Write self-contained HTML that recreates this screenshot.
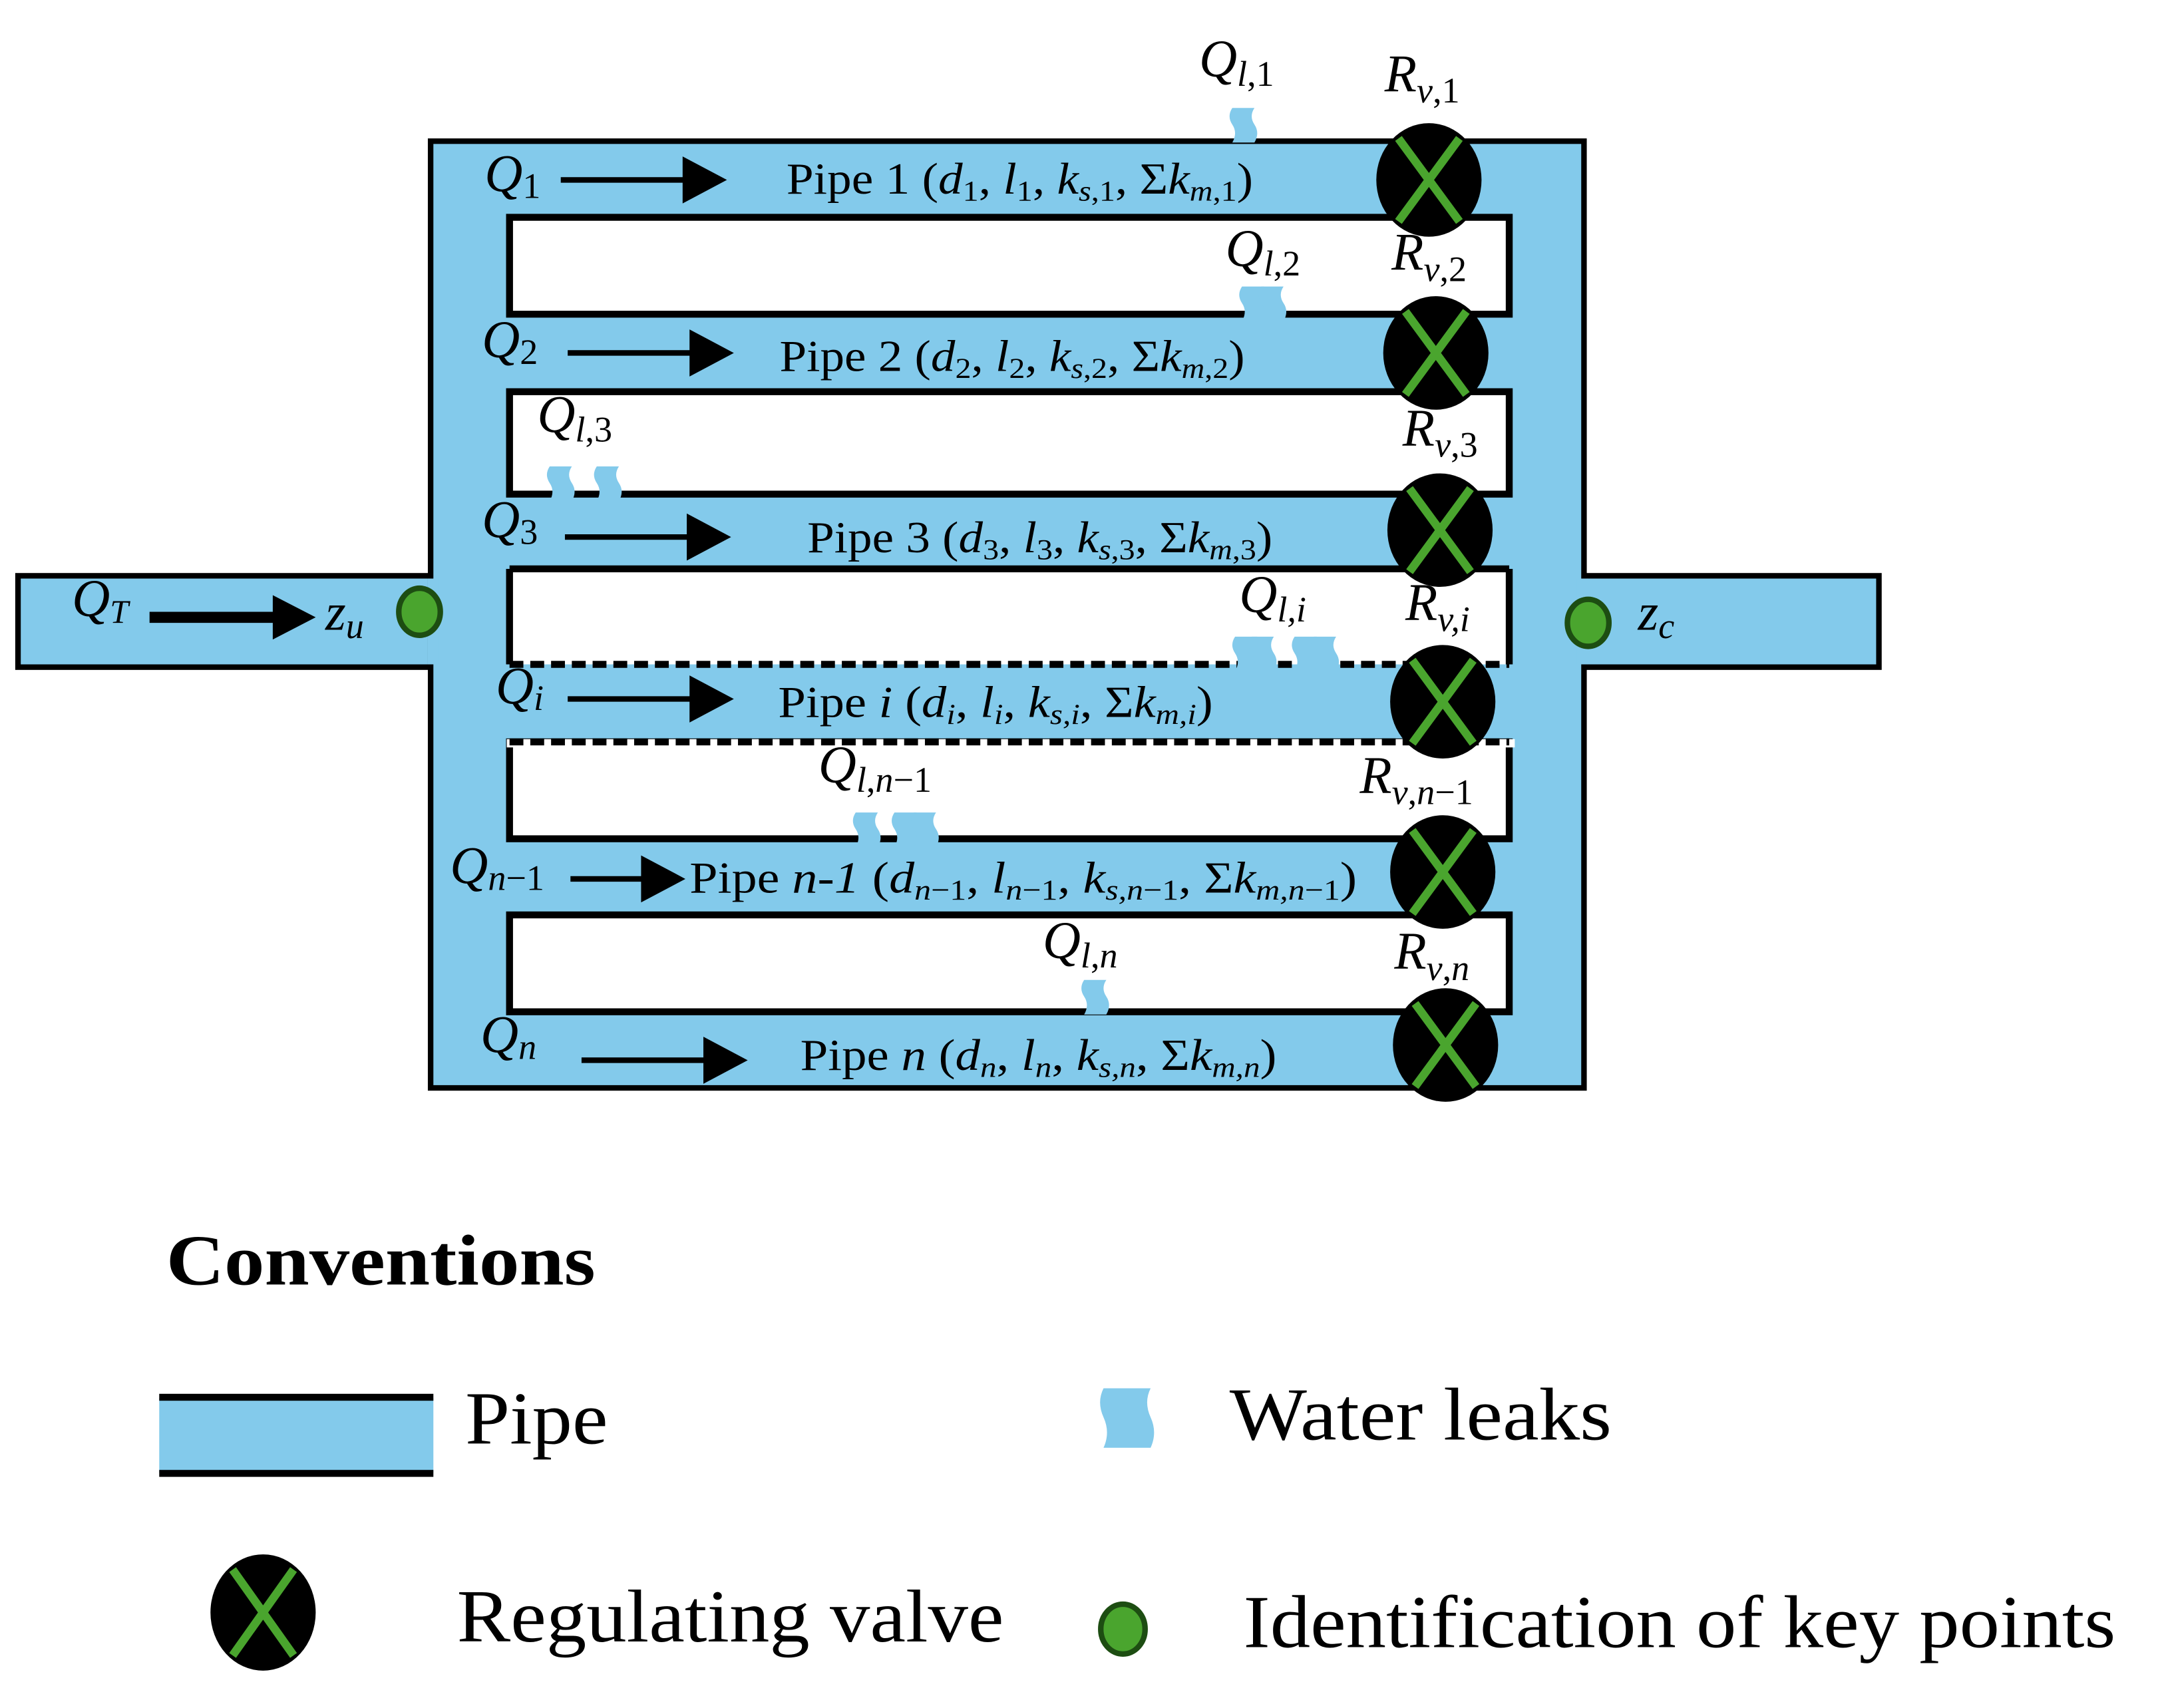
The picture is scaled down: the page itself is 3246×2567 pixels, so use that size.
<!DOCTYPE html>
<html><head><meta charset="utf-8"><style>html,body{margin:0;padding:0;background:#fff}svg{display:block}svg text{font-family:"Liberation Serif",serif}</style></head>
<body>
<svg width="3246" height="2567" viewBox="0 0 1560 1234" preserveAspectRatio="none" xmlns="http://www.w3.org/2000/svg" style="font-family:'Liberation Serif',serif">
<defs>
<g id="valve"><ellipse cx="0" cy="0" rx="38" ry="41" fill="#000"/><line x1="-22" y1="-30" x2="22" y2="30" stroke="#4aa52e" stroke-width="6"/><line x1="22" y1="-30" x2="-22" y2="30" stroke="#4aa52e" stroke-width="6"/></g>
<g id="leak"><path d="M0,0 h16 q-4,6 0,12 q4,6 0,13 h-16 q4,-7 0,-13 q-4,-6 0,-12z" fill="#83caeb"/></g>
</defs>
<rect x="13" y="416" width="300" height="66" fill="#83caeb" stroke="#000" stroke-width="4"/>
<rect x="1143" y="416" width="214" height="66" fill="#83caeb" stroke="#000" stroke-width="4"/>
<rect x="311" y="102" width="833" height="684" fill="#83caeb" stroke="#000" stroke-width="4"/>
<rect x="309" y="418" width="8" height="62" fill="#83caeb"/>
<rect x="1139" y="418" width="8" height="62" fill="#83caeb"/>
<g fill="#fff" stroke="#000" stroke-width="5">
<rect x="368" y="157" width="722" height="70"/>
<rect x="368" y="283" width="722" height="74"/>
<rect x="368" y="536" width="722" height="70"/>
<rect x="368" y="661" width="722" height="70"/>
</g>
<rect x="368" y="411" width="722" height="69" fill="#fff"/>
<g stroke="#000" stroke-width="5">
<line x1="368" y1="411" x2="1090" y2="411"/>
<line x1="368" y1="411" x2="368" y2="480"/>
<line x1="1090" y1="411" x2="1090" y2="480"/>
<line x1="368" y1="480" x2="1090" y2="480" stroke-dasharray="10,5"/>
</g>
<rect x="366" y="534" width="728" height="6" fill="#fff"/>
<line x1="368" y1="536" x2="1090" y2="536" stroke="#000" stroke-width="5" stroke-dasharray="10,5"/>
<use href="#leak" x="890" y="78"/>
<use href="#leak" x="897" y="207"/><use href="#leak" x="911" y="207"/>
<use href="#leak" x="397" y="337"/><use href="#leak" x="431" y="337"/>
<use href="#leak" x="892" y="460"/><use href="#leak" x="904" y="460"/><use href="#leak" x="935" y="460"/><use href="#leak" x="949" y="460"/>
<use href="#leak" x="618" y="587"/><use href="#leak" x="646" y="587"/><use href="#leak" x="660" y="587"/>
<use href="#leak" x="783" y="708"/>
<use href="#valve" x="1032" y="130"/>
<use href="#valve" x="1037" y="255"/>
<use href="#valve" x="1040" y="383"/>
<use href="#valve" x="1042" y="507"/>
<use href="#valve" x="1042" y="630"/>
<use href="#valve" x="1044" y="755"/>
<ellipse cx="303" cy="442" rx="15" ry="17" fill="#4aa52e" stroke="#1d4d12" stroke-width="4"/>
<ellipse cx="1147" cy="450" rx="15" ry="17" fill="#4aa52e" stroke="#1d4d12" stroke-width="4"/>
<g stroke="#000" stroke-width="4">
<line x1="405" y1="130" x2="495" y2="130"/>
<line x1="410" y1="255" x2="500" y2="255"/>
<line x1="408" y1="388" x2="498" y2="388"/>
<line x1="410" y1="505" x2="500" y2="505"/>
<line x1="412" y1="635" x2="465" y2="635"/>
<line x1="420" y1="766" x2="510" y2="766"/>
<line x1="108" y1="446" x2="200" y2="446" stroke-width="8"/>
</g>
<g fill="#000">
<path d="M493,113 L525,130 L493,147z"/>
<path d="M498,238 L530,255 L498,272z"/>
<path d="M496,371 L528,388 L496,405z"/>
<path d="M498,488 L530,505 L498,522z"/>
<path d="M463,618 L495,635 L463,652z"/>
<path d="M508,749 L540,766 L508,783z"/>
<path d="M197,430 L228,446 L197,462z"/>
</g>
<g font-size="38" font-style="italic" fill="#000">
<text x="350" y="138">Q<tspan font-size="26" dy="5" font-style="normal">1</tspan></text>
<text x="348" y="258">Q<tspan font-size="26" dy="5" font-style="normal">2</tspan></text>
<text x="348" y="388">Q<tspan font-size="26" dy="5" font-style="normal">3</tspan></text>
<text x="358" y="508">Q<tspan font-size="26" dy="5">i</tspan></text>
<text x="325" y="638">Q<tspan font-size="26" dy="5">n</tspan><tspan font-size="26" font-style="normal">−1</tspan></text>
<text x="347" y="760">Q<tspan font-size="26" dy="5">n</tspan></text>
<text x="52" y="445">Q<tspan font-size="24" dy="5">T</tspan></text>
<text x="235" y="455">z<tspan font-size="26" dy="6">u</tspan></text>
<text x="1183" y="455">z<tspan font-size="26" dy="6">c</tspan></text>
<text x="866" y="55">Q<tspan font-size="26" dy="7">l</tspan><tspan font-size="26" font-style="normal">,1</tspan></text>
<text x="885" y="192">Q<tspan font-size="26" dy="7">l</tspan><tspan font-size="26" font-style="normal">,2</tspan></text>
<text x="388" y="312">Q<tspan font-size="26" dy="7">l</tspan><tspan font-size="26" font-style="normal">,3</tspan></text>
<text x="895" y="442">Q<tspan font-size="26" dy="7">l,i</tspan></text>
<text x="591" y="565">Q<tspan font-size="26" dy="7">l</tspan><tspan font-size="26" font-style="normal">,</tspan><tspan font-size="26">n</tspan><tspan font-size="26" font-style="normal">−1</tspan></text>
<text x="753" y="692">Q<tspan font-size="26" dy="7">l</tspan><tspan font-size="26" font-style="normal">,</tspan><tspan font-size="26">n</tspan></text>
<text x="1000" y="66">R<tspan font-size="26" dy="8">v</tspan><tspan font-size="26" font-style="normal">,1</tspan></text>
<text x="1005" y="195">R<tspan font-size="26" dy="8">v</tspan><tspan font-size="26" font-style="normal">,2</tspan></text>
<text x="1013" y="322">R<tspan font-size="26" dy="8">v</tspan><tspan font-size="26" font-style="normal">,3</tspan></text>
<text x="1015" y="448">R<tspan font-size="26" dy="8">v,i</tspan></text>
<text x="982" y="573">R<tspan font-size="26" dy="8">v</tspan><tspan font-size="26" font-style="normal">,</tspan><tspan font-size="26">n</tspan><tspan font-size="26" font-style="normal">−1</tspan></text>
<text x="1007" y="700">R<tspan font-size="26" dy="8">v</tspan><tspan font-size="26" font-style="normal">,</tspan><tspan font-size="26">n</tspan></text>
</g>
<g font-size="32" fill="#000">
<text x="568" y="140" textLength="337" lengthAdjust="spacingAndGlyphs">Pipe 1 (<tspan font-style="italic">d</tspan><tspan font-size="21" dy="5">1</tspan><tspan dy="-5">, </tspan><tspan font-style="italic">l</tspan><tspan font-size="21" dy="5">1</tspan><tspan dy="-5">, </tspan><tspan font-style="italic">k</tspan><tspan font-size="21" dy="5"><tspan font-style="italic">s</tspan>,1</tspan><tspan dy="-5">, Σ</tspan><tspan font-style="italic">k</tspan><tspan font-size="21" dy="5"><tspan font-style="italic">m</tspan>,1</tspan><tspan dy="-5">)</tspan></text>
<text x="563" y="268" textLength="336" lengthAdjust="spacingAndGlyphs">Pipe 2 (<tspan font-style="italic">d</tspan><tspan font-size="21" dy="5">2</tspan><tspan dy="-5">, </tspan><tspan font-style="italic">l</tspan><tspan font-size="21" dy="5">2</tspan><tspan dy="-5">, </tspan><tspan font-style="italic">k</tspan><tspan font-size="21" dy="5"><tspan font-style="italic">s</tspan>,2</tspan><tspan dy="-5">, Σ</tspan><tspan font-style="italic">k</tspan><tspan font-size="21" dy="5"><tspan font-style="italic">m</tspan>,2</tspan><tspan dy="-5">)</tspan></text>
<text x="583" y="399" textLength="336" lengthAdjust="spacingAndGlyphs">Pipe 3 (<tspan font-style="italic">d</tspan><tspan font-size="21" dy="5">3</tspan><tspan dy="-5">, </tspan><tspan font-style="italic">l</tspan><tspan font-size="21" dy="5">3</tspan><tspan dy="-5">, </tspan><tspan font-style="italic">k</tspan><tspan font-size="21" dy="5"><tspan font-style="italic">s</tspan>,3</tspan><tspan dy="-5">, Σ</tspan><tspan font-style="italic">k</tspan><tspan font-size="21" dy="5"><tspan font-style="italic">m</tspan>,3</tspan><tspan dy="-5">)</tspan></text>
<text x="562" y="518" textLength="314" lengthAdjust="spacingAndGlyphs">Pipe <tspan font-style="italic">i</tspan> (<tspan font-style="italic">d</tspan><tspan font-size="21" dy="5" font-style="italic">i</tspan><tspan dy="-5">, </tspan><tspan font-style="italic">l</tspan><tspan font-size="21" dy="5" font-style="italic">i</tspan><tspan dy="-5">, </tspan><tspan font-style="italic">k</tspan><tspan font-size="21" dy="5" font-style="italic">s,i</tspan><tspan dy="-5">, Σ</tspan><tspan font-style="italic">k</tspan><tspan font-size="21" dy="5" font-style="italic">m,i</tspan><tspan dy="-5">)</tspan></text>
<text x="498" y="645" textLength="482" lengthAdjust="spacingAndGlyphs">Pipe <tspan font-style="italic">n-1</tspan> (<tspan font-style="italic">d</tspan><tspan font-size="21" dy="5"><tspan font-style="italic">n</tspan>−1</tspan><tspan dy="-5">, </tspan><tspan font-style="italic">l</tspan><tspan font-size="21" dy="5"><tspan font-style="italic">n</tspan>−1</tspan><tspan dy="-5">, </tspan><tspan font-style="italic">k</tspan><tspan font-size="21" dy="5" font-style="italic">s,n</tspan><tspan font-size="21">−1</tspan><tspan dy="-5">, Σ</tspan><tspan font-style="italic">k</tspan><tspan font-size="21" dy="5" font-style="italic">m,n</tspan><tspan font-size="21">−1</tspan><tspan dy="-5">)</tspan></text>
<text x="578" y="773" textLength="344" lengthAdjust="spacingAndGlyphs">Pipe <tspan font-style="italic">n</tspan> (<tspan font-style="italic">d</tspan><tspan font-size="21" dy="5" font-style="italic">n</tspan><tspan dy="-5">, </tspan><tspan font-style="italic">l</tspan><tspan font-size="21" dy="5" font-style="italic">n</tspan><tspan dy="-5">, </tspan><tspan font-style="italic">k</tspan><tspan font-size="21" dy="5" font-style="italic">s,n</tspan><tspan dy="-5">, Σ</tspan><tspan font-style="italic">k</tspan><tspan font-size="21" dy="5" font-style="italic">m,n</tspan><tspan dy="-5">)</tspan></text>
</g>
<text x="120" y="928" font-size="52" font-weight="bold" textLength="310" lengthAdjust="spacingAndGlyphs">Conventions</text>
<rect x="115" y="1010" width="198" height="54" fill="#83caeb"/>
<rect x="115" y="1007" width="198" height="5" fill="#000"/>
<rect x="115" y="1062" width="198" height="5" fill="#000"/>
<text x="336" y="1043" font-size="54" textLength="103" lengthAdjust="spacingAndGlyphs">Pipe</text>
<path d="M797,1003 h34 q-5,10 0,21 q5,11 0,22 h-34 q5,-11 0,-22 q-5,-11 0,-21z" fill="#83caeb"/>
<text x="888" y="1040" font-size="54" textLength="276" lengthAdjust="spacingAndGlyphs">Water leaks</text>
<g transform="translate(190,1165)"><ellipse rx="38" ry="42" fill="#000"/><line x1="-22" y1="-31" x2="22" y2="31" stroke="#4aa52e" stroke-width="6"/><line x1="22" y1="-31" x2="-22" y2="31" stroke="#4aa52e" stroke-width="6"/></g>
<text x="330" y="1186" font-size="54" textLength="395" lengthAdjust="spacingAndGlyphs">Regulating valve</text>
<ellipse cx="811" cy="1177" rx="16" ry="18" fill="#4aa52e" stroke="#1d4d12" stroke-width="4"/>
<text x="898" y="1190" font-size="54" textLength="630" lengthAdjust="spacingAndGlyphs">Identification of key points</text>
</svg>
</body></html>
